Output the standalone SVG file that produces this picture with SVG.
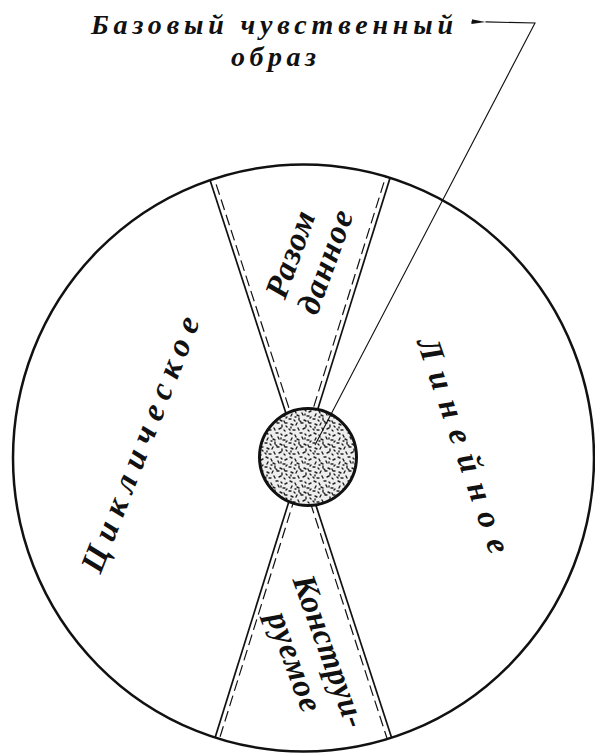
<svg xmlns="http://www.w3.org/2000/svg" width="595" height="753" viewBox="0 0 595 753">
<style>
.lbl{font-family:"Liberation Serif","Times New Roman",serif;font-weight:bold;font-style:italic;fill:#111;}
.solid{stroke:#111;stroke-width:1.7;fill:none;}
.dash{stroke:#111;stroke-width:1.2;fill:none;stroke-dasharray:11 5;}
.ptr{stroke:#111;stroke-width:1.1;fill:none;}
</style>
<defs>
<clipPath id="inside"><ellipse cx="303.5" cy="458" rx="290.5" ry="293.5"/></clipPath>
<marker id="arr" viewBox="0 0 14 6" refX="0" refY="3" markerWidth="14" markerHeight="6" markerUnits="userSpaceOnUse" orient="auto-start-reverse">
<path d="M0,3 L14,0.6 L14,5.4 Z" fill="#111"/>
</marker>
<pattern id="speck" width="24" height="24" patternUnits="userSpaceOnUse">
<rect width="24" height="24" fill="#eeeeee"/>
<path d="M2 1l2 1M7 3l1 2M12 1l2 0M17 2l1 1M21 4l2 -1M4 6l-1 2M9 7l2 1M14 5l1 2M19 8l2 0M23 9l-1 1M1 11l2 0M6 12l1 1M11 10l0 2M16 12l2 1M20 13l1 2M3 16l2 1M8 17l1 -2M13 15l2 0M18 17l0 2M22 18l1 1M1 21l1 1M5 22l2 0M10 20l1 2M15 21l2 -1M20 22l1 1M12 13l1 1M7 9l1 0M17 6l0 1M3 19l0 1M22 15l1 0" stroke="#222" stroke-width="1.4" stroke-linecap="round" fill="none"/>
</pattern>
</defs>
<rect width="595" height="753" fill="#ffffff"/>

<g id="dividers" clip-path="url(#inside)">
<line class="solid" x1="206.9" y1="170.5" x2="396.1" y2="751.5"/>
<line class="solid" x1="393" y1="168.5" x2="211.9" y2="747.8"/>
<line class="dash" x1="211.2" y1="169.1" x2="296.1" y2="430"/>
<line class="dash" x1="388.7" y1="167.1" x2="306.5" y2="430"/>
<line class="dash" x1="393" y1="756.7" x2="304.6" y2="485"/>
<line class="dash" x1="215.3" y1="752" x2="298.8" y2="485"/>
</g>

<g id="outer-circle">
<ellipse cx="303.5" cy="458" rx="290.5" ry="293.5" fill="none" stroke="#111" stroke-width="2.5"/>
</g>

<g id="core">
<circle cx="308" cy="457" r="48.5" fill="url(#speck)" stroke="#111" stroke-width="3"/>
</g>

<g id="label-razom">
<text class="lbl" font-size="33" text-anchor="middle" transform="translate(291,254.7) rotate(-70)" y="10" textLength="90" lengthAdjust="spacing">Разом</text>
<text class="lbl" font-size="33" text-anchor="middle" transform="translate(326,262) rotate(-70)" y="10" textLength="108" lengthAdjust="spacing">данное</text>
</g>

<g id="label-konstr">
<text class="lbl" font-size="33" text-anchor="middle" transform="translate(329,651.5) rotate(70)" y="10" textLength="160" lengthAdjust="spacing">Конструи-</text>
<text class="lbl" font-size="33" text-anchor="middle" transform="translate(294,662) rotate(70)" y="10" textLength="104" lengthAdjust="spacing">руемое</text>
</g>

<g id="label-cycl">
<text class="lbl" font-size="33" text-anchor="middle" transform="translate(141,444.6) rotate(-68.5)" y="10" textLength="272" lengthAdjust="spacing">Циклическое</text>
</g>

<g id="label-lin">
<text class="lbl" font-size="33" text-anchor="middle" transform="translate(463,445.6) rotate(71)" y="10" textLength="226" lengthAdjust="spacing">Линейное</text>
</g>

<g id="title">
<text class="lbl" font-size="28" x="91" y="34" textLength="362" lengthAdjust="spacing">Базовый чувственный</text>
<text class="lbl" font-size="28" x="231" y="66" textLength="85" lengthAdjust="spacing">образ</text>
</g>

<g id="connectors">
<polyline class="ptr" points="315,445 535,23 485.5,21.9" marker-end="url(#arr)"/>
</g>
</svg>
